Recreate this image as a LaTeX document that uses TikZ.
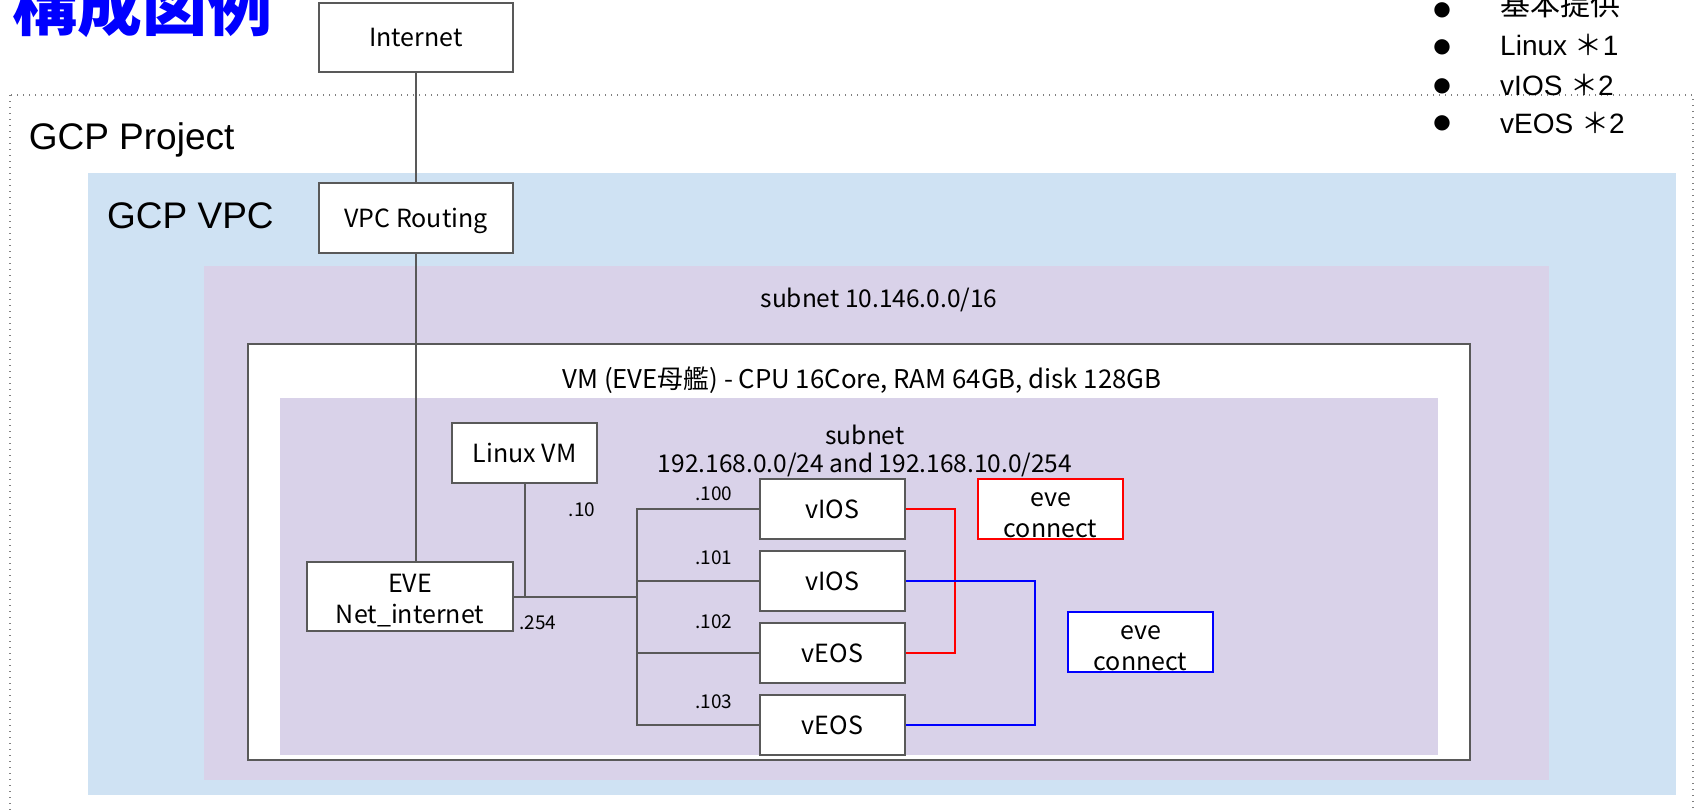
\documentclass[tikz,border=0pt]{standalone}
\usepackage{fontspec}
\setmainfont{Liberation Sans}
\newfontfamily\jp{Noto Sans CJK JP}
\newfontfamily\dv{DejaVu Sans}
\definecolor{vpcblue}{HTML}{CFE2F3}
\definecolor{subpurple}{HTML}{D9D2E9}
\definecolor{bordergray}{HTML}{595959}
\definecolor{titleblue}{HTML}{0000FF}
\definecolor{lnred}{HTML}{FF0000}
\definecolor{lnblue}{HTML}{0000FF}
\tikzset{
  box/.style={draw=bordergray, line width=2pt, fill=white, inner sep=0pt, align=center,
    font=\jp\fontsize{25}{31}\selectfont, minimum width=145pt, minimum height=60pt},
  one/.style={text height=18pt, text depth=0pt},
  conn/.style={draw=bordergray, line width=2pt},
  lbl/.style={inner sep=0pt, font=\jp\fontsize{24.5}{30}\selectfont},
  small/.style={inner sep=0pt, font=\jp\fontsize{19}{22}\selectfont},
  big/.style={inner sep=0pt, anchor=base west, font=\fontsize{37}{40}\selectfont},
  bul/.style={inner sep=0pt, font=\dv\fontsize{20}{20}\selectfont},
  bultext/.style={inner sep=0pt, anchor=base west, font=\fontsize{28}{32}\selectfont},
}
\newcommand{\lift}{\rule{0pt}{27pt}}
\begin{document}
\begin{tikzpicture}[x=1pt,y=-1pt]
\clip (0,0) rectangle (1695,811);
\fill[white] (0,0) rectangle (1695,811);
% regions
\draw[gray, line width=1.3pt, dash pattern=on 1.3pt off 4.7pt] (10,95) rectangle (1693,840);
\fill[vpcblue] (87.5,173) rectangle (1676,794.5);
\fill[subpurple] (204,266) rectangle (1549,780);
\draw[bordergray, line width=2pt, fill=white] (248,344) rectangle (1470,760);
\fill[subpurple] (280,398) rectangle (1438,755);
% texts
\node[inner sep=0pt, anchor=base west, text=titleblue, font=\jp\bfseries\fontsize{65}{65}\selectfont] (title) at (12,30) {構成図例};
\node[big] (gcpp) at (28.6,149) {GCP Project};
\node[big] (gcpv) at (107,228) {GCP VPC};
\node[lbl] (subnet1) at (879,300) {subnet 10.146.0.0/16};
\node[lbl, font=\jp\fontsize{25.8}{30}\selectfont] (vmlabel) at (862,380) {VM (EVE母艦) - CPU 16Core, RAM 64GB, disk 128GB};
\node[lbl] (subnet2a) at (865,435) {subnet};
\node[lbl] (subnet2b) at (865,465) {192.168.0.0/24 and 192.168.10.0/254};
% bullets
\node[bul] (d1) at (1442,10) {●};
\node[bul] (d2) at (1442,47) {●};
\node[bul] (d3) at (1442,86) {●};
\node[bul] (d4) at (1442,123) {●};
\node[bultext, font=\jp\fontsize{30}{32}\selectfont] (t1) at (1500,16) {基本提供};
\node[bultext] (t2) at (1500,55) {Linux {\jp ＊}1};
\node[bultext] (t3) at (1500,95) {vIOS {\jp ＊}2};
\node[bultext] (t4) at (1500,133) {vEOS {\jp ＊}2};
% boxes
\node[box, one, minimum width=194pt, minimum height=69pt] (internet) at (416,37.5) {Internet};
\node[box, one, minimum width=194pt, minimum height=70pt] (vpcr) at (416,218) {VPC Routing};
\node[box, minimum width=206pt, minimum height=69pt] (eve) at (410,596.5) {\lift EVE\\Net\_internet};
\node[box, one] (linux) at (524.5,453) {Linux VM};
\node[box, one] (r1) at (832.5,509) {vIOS};
\node[box, one] (r2) at (832.5,581) {vIOS};
\node[box, one] (r3) at (832.5,653) {vEOS};
\node[box, one] (r4) at (832.5,725) {vEOS};
\node[box, draw=lnred] (ec1) at (1050.5,509) {\lift eve\\connect};
\node[box, draw=lnblue] (ec2) at (1140.5,642) {\lift eve\\connect};
% small labels
\node[small] (l10) at (582,510) {.10};
\node[small] (l254) at (538,623) {.254};
\node[small] (l100) at (714,494) {.100};
\node[small] (l101) at (714,558) {.101};
\node[small] (l102) at (714,622) {.102};
\node[small] (l103) at (714,702) {.103};
% connectors
\coordinate (bus) at (637,0);
\coordinate (redx) at (955,0);
\coordinate (bluex) at (1035,0);
\draw[conn] (internet.south) -- (vpcr.north);
\draw[conn] (vpcr.south) -- (vpcr.south |- eve.north);
\draw[conn] (linux.south) -- (linux.south |- eve.east);
\draw[conn] (eve.east) -- (eve.east -| bus);
\draw[conn] (r1.west) -- (r1.west -| bus) -- (r4.west -| bus) -- (r4.west);
\draw[conn] (r2.west) -- (r2.west -| bus);
\draw[conn] (r3.west) -- (r3.west -| bus);
\draw[draw=lnred, line width=2pt] (r1.east) -- (r1.east -| redx) -- (r3.east -| redx) -- (r3.east);
\draw[draw=lnblue, line width=2pt] (r2.east) -- (r2.east -| bluex) -- (r4.east -| bluex) -- (r4.east);
\end{tikzpicture}
\end{document}
